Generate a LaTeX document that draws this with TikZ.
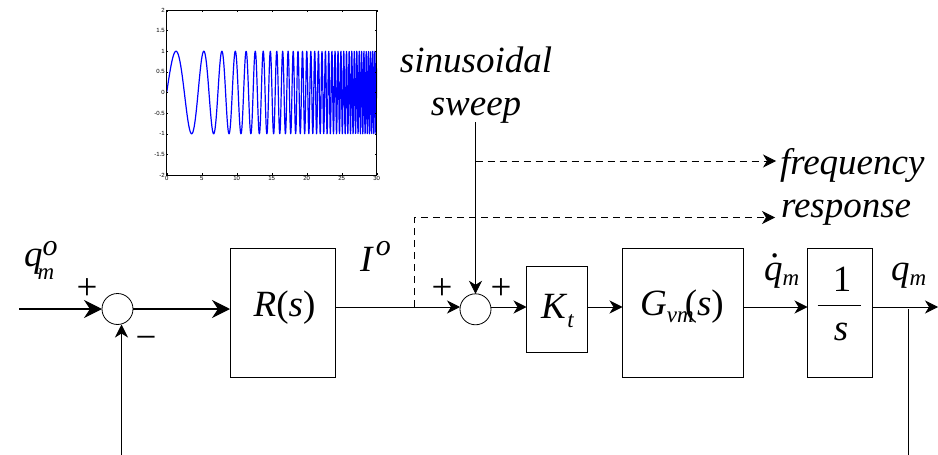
\documentclass[tikz,border=0pt]{standalone}
\usepackage{amsmath}
\usepackage{fontspec}
\setmainfont{Liberation Serif}
\newfontfamily\axisfont{Liberation Sans}
\usetikzlibrary{arrows.meta, positioning}
\newcommand{\bigtext}{\fontsize{37}{40}\selectfont}
\newcommand{\scr}[1]{\fontsize{23}{23}\selectfont\textit{#1}}
\newcommand{\scrb}[1]{\fontsize{30}{30}\selectfont\textit{#1}}
\begin{document}
\begin{tikzpicture}[
  x=1pt, y=-1pt,
  node distance=36pt,
  box/.style={draw,line width=0.9pt,inner sep=0pt,outer sep=0pt,align=center,font=\bigtext},
  sumnode/.style={draw,circle,line width=0.8pt,minimum size=31pt,inner sep=0pt,outer sep=0pt},
  arrow/.style={-{Stealth[length=13pt,width=13pt,inset=4pt]},line width=0.9pt},
  bigarrow/.style={-{Stealth[length=18pt,width=18pt,inset=6pt]},line width=1.1pt},
  dasharrow/.style={arrow,dash pattern=on 7pt off 5pt,line width=0.8pt},
  wire/.style={line width=0.9pt},
  lab/.style={inner sep=0pt,outer sep=0pt,font=\bigtext},
  tick/.style={inner sep=0pt,outer sep=0pt,font=\axisfont\fontsize{6}{6}\selectfont}
]
  \useasboundingbox (0,0) rectangle (938,455);

  % blocks
  \node[sumnode] (suma) at (117.5,309) {};
  \node[box, minimum width=105.5pt, minimum height=129pt, right=97pt of suma, yshift=-3.7pt] (rbox) {};
  \node[sumnode, right=124.5pt of rbox, yshift=3.4pt] (sumb) {};
  \node[box, minimum width=60.5pt, minimum height=85.5pt, right=35.5pt of sumb] (kbox) {};
  \node[box, minimum width=121pt, minimum height=129pt, right=35.5pt of kbox, yshift=-3.7pt] (gbox) {};
  \node[box, minimum width=65pt, minimum height=129pt, right=64pt of gbox] (ibox) {};

  % block texts
  \node[lab] (rtext) at (284.5,308) {\textit{R}(\textit{s})};
  \node[lab,anchor=base west] (ktext) at (541,318) {\textit{K}\raisebox{-9pt}{\scr{t}}};
  \node[lab] (gtext) at (682,307) {\textit{G}\raisebox{-7pt}{\scr{vm}}\hspace{-9pt}(\textit{s})};
  \node[lab] (one) at (842,279) {1};
  \node[lab,anchor=base] (ess) at (841,340) {\textit{s}};
  \coordinate (barl) at (817.5,305);
  \coordinate (barr) at (860.5,305);
  \draw[wire] (barl) -- (barr);

  % signal labels
  \node[lab,anchor=base west] (qref) at (24,266) {\textit{q}\rlap{\raisebox{11pt}{\scrb{o}}}\hspace{-5pt}\raisebox{-13pt}{\scr{m}}};
  \node[lab,anchor=base west] (iref) at (360,271) {\textit{I}\hspace{2pt}\raisebox{16pt}{\scrb{o}}};
  \node[lab,anchor=base west] (qdot) at (764,280) {\rlap{\hspace{6pt}\raisebox{23pt}{.}}\textit{q}\raisebox{-5pt}{\scr{m}}};
  \node[lab,anchor=base west] (qout) at (891,280) {\textit{q}\raisebox{-5pt}{\scr{m}}};
  \node[lab] (pa) at (87,289) {+};
  \node[lab] (ma) at (146,343) {−};
  \node[lab] (pb) at (442,289) {+};
  \node[lab] (pc) at (501,289) {+};
  \node[lab,anchor=base] (sinus) at (476,72) {\textit{sinusoidal}};
  \node[lab,anchor=base] (sweep) at (476,115) {\textit{sweep}};
  \node[lab,anchor=base west] (freq) at (780,174) {\textit{frequency}};
  \node[lab,anchor=base west] (resp) at (781,217) {\textit{response}};

  % free ends and branch points
  \coordinate (inp) at (19,309);
  \coordinate (mid) at (414.5,307);
  \coordinate (outp) at (938,307);
  \coordinate (sweeptop) at (475.5,122);
  \coordinate (freqtap) at (475.5,161);
  \coordinate (corner) at (414.5,217.5);
  \coordinate (fbtop) at (908,309);
  \coordinate (fbright) at (908,455);
  \coordinate (fbleft) at (121.5,455);

  % connectors
  \draw[bigarrow] (inp) -- (suma.west);
  \draw[bigarrow] (suma.east) -- (suma.east -| rbox.west);
  \draw[arrow] (mid -| rbox.east) -- (mid -| sumb.west);
  \draw[arrow] (mid -| sumb.east) -- (mid -| kbox.west);
  \draw[arrow] (mid -| kbox.east) -- (mid -| gbox.west);
  \draw[arrow] (mid -| gbox.east) -- (mid -| ibox.west);
  \draw[arrow] (mid -| ibox.east) -- (outp);
  \draw[arrow] (sweeptop) -- (sumb.north);
  \draw[arrow] (fbleft) -- (fbleft |- suma.south);
  \draw[wire] (fbright) -- (fbtop);
  \draw[dasharrow] (freqtap) -- ([xshift=-4pt]freqtap -| freq.west);
  \draw[dasharrow] (mid) -- (corner) -- ([xshift=-6pt]corner -| resp.west);

  % sweep plot
  \begin{scope}[shift={(166.7,92.5)}, x=7pt, y=41.25pt]
    \draw[blue, line width=1.2pt, line join=round] plot[domain=0:30, samples=1800]
      (\x, {sin(deg(\x*(1.127+\x*(0.0305+\x*0.00683))))});
    \draw[line width=0.6pt] (0,-2) rectangle (30,2);
    \foreach \tx in {0,5,...,30} {
      \draw[line width=0.4pt] (\tx,-2) -- ++(0,1.7pt) (\tx,2) -- ++(0,-1.7pt);
      \node[tick, anchor=north] (xt\tx) at ([yshift=-1.5pt]\tx,-2) {\tx};
    }
    \foreach \ty in {-2,-1.5,-1,-0.5,0,0.5,1,1.5,2} {
      \draw[line width=0.4pt] (0,\ty) -- ++(1.7pt,0) (30,\ty) -- ++(-1.7pt,0);
      \node[tick, anchor=east] (yt\ty) at ([xshift=-2pt]0,\ty) {\ty};
    }
  \end{scope}
\end{tikzpicture}
\end{document}
